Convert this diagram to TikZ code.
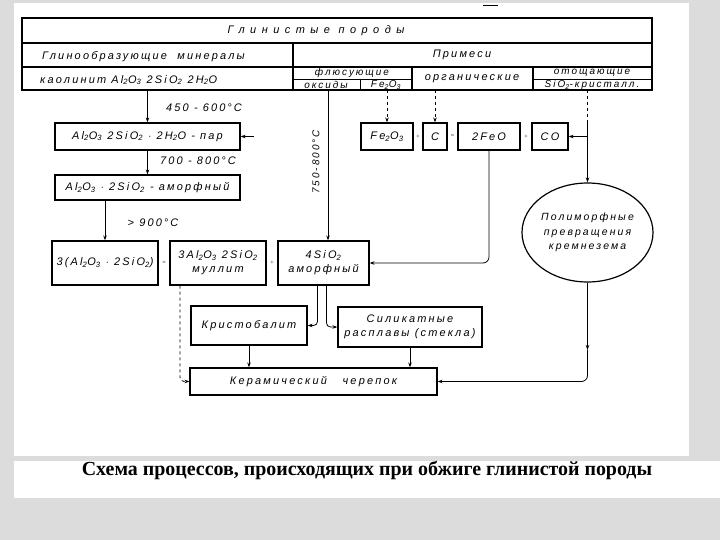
\documentclass[tikz,border=0pt]{standalone}
\usepackage{fontspec}
\setmainfont{Liberation Serif}
\newfontfamily\dr[LetterSpace=20]{Liberation Sans}
\usetikzlibrary{arrows.meta,shapes.geometric,calc}
\definecolor{bggray}{RGB}{220,220,220}
\newcommand{\lo}[1]{\textsubscript{#1}}
\tikzset{
  bx/.style={draw, line width=1.2pt, inner sep=0pt, align=center, font=\dr\itshape\fontsize{11}{14}\selectfont},
  ar/.style={line width=0.8pt, -{Stealth[length=5pt,width=3.5pt]}},
  ln/.style={line width=0.8pt},
  lbl/.style={font=\dr\itshape\fontsize{11}{13}\selectfont, inner sep=0pt},
  ttx/.style={font=\dr\itshape\fontsize{11}{13}\selectfont, inner sep=0pt},
  tts/.style={font=\dr\itshape\fontsize{10}{11}\selectfont, inner sep=0pt},
  tbl/.style={line width=1.2pt},
  sgn/.style={font=\fontsize{6}{6}\selectfont, inner sep=0pt},
}
\begin{document}
\begin{tikzpicture}[x=1bp,y=-1bp]
\useasboundingbox (0,0) rectangle (720,540);
\fill[bggray] (0,0) rectangle (720,540);
\fill[white] (14,3) rectangle (689,456);
\fill[white] (14,461) rectangle (720,498);
\draw[line width=1pt] (483,6) -- (498,6);

% table
\draw[line width=2pt] (22,18) rectangle (652,90);
\draw[tbl] (22,43) -- (652,43);
\draw[tbl] (293,43) -- (293,90);
\draw[tbl] (22,67) -- (652,67);
\draw[tbl] (412,67) -- (412,90);
\draw[tbl] (533,67) -- (533,90);
\draw[ln] (293,79) -- (412,79);
\draw[ln] (360,79) -- (360,90);
\draw[ln] (533,79) -- (652,79);

\node[ttx] (tg) at (316,31) {\addfontfeature{LetterSpace=50}Глинистые породы};
\node[ttx, anchor=west] (tm) at (42,57) {Глинообразующие\ \ минералы};
\node[ttx, anchor=west] (tk) at (40,80) {каолинит Al\lo2O\lo3 2SiO\lo2 2H\lo2O};
\node[ttx] (tp) at (462,55) {Примеси};
\node[tts] (tf) at (352,73) {флюсующие};
\node[tts] (to) at (326,85) {оксиды};
\node[tts] (tfe) at (386,85) {Fe\lo2O\lo3};
\node[ttx] (tor) at (472,79) {органические};
\node[tts] (tot) at (592,73) {отощающие};
\node[tts] (tsi) at (592,85) {SiO\lo2-кристалл.};

% table exit points
\coordinate (k1) at (147.5,90);
\coordinate (k2) at (328,90);
\coordinate (k3) at (387,90);
\coordinate (k4) at (435,90);
\coordinate (k5) at (587.5,90);
\coordinate (k5b) at (587.5,122);

% boxes
\node[bx, minimum width=185bp, minimum height=27bp] (b1) at (147.5,136.5) {Al\lo2O\lo3 2SiO\lo2 $\cdot$ 2H\lo2O - пар};
\node[bx, minimum width=185bp, minimum height=25bp] (b2) at (147.5,187.5) {Al\lo2O\lo3 $\cdot$ 2SiO\lo2 - аморфный};
\node[bx, minimum width=106bp, minimum height=44bp] (b3) at (105,263) {3(Al\lo2O\lo3 $\cdot$ 2SiO\lo2)};
\node[bx, minimum width=96bp, minimum height=44bp] (b4) at (218,263) {3Al\lo2O\lo3 2SiO\lo2\\муллит};
\node[bx, minimum width=91bp, minimum height=44bp] (b5) at (323.5,263) {4SiO\lo2\\аморфный};
\node[bx, minimum width=52bp, minimum height=27bp] (fe) at (387,136.5) {Fe\lo2O\lo3};
\node[bx, minimum width=24bp, minimum height=27bp] (cc) at (435,136.5) {C};
\node[bx, minimum width=62bp, minimum height=27bp] (feo) at (489,136.5) {2FeO};
\node[bx, minimum width=36bp, minimum height=27bp] (co) at (550,136.5) {CO};
\node[bx, ellipse, minimum width=129bp, minimum height=99bp, font=\dr\itshape\fontsize{10.5}{14.5}\selectfont] (circ) at (587.5,232.5) {Полиморфные\\превращения\\кремнезема};
\node[bx, minimum width=116bp, minimum height=39bp] (kr) at (249,325.5) {Кристобалит};
\node[bx, minimum width=144bp, minimum height=40bp] (si) at (410,327) {Силикатные\\расплавы (стекла)};
\node[bx, minimum width=247bp, minimum height=27bp] (ke) at (313.5,381.5) {Керамический\ \ \ черепок};

% signs
\node[sgn] (s1) at (164,263) {=};
\node[sgn] (s2) at (272,263) {+};
\node[sgn] (s3) at (418,136.5) {+};
\node[sgn] (s4) at (452.5,136.5) {=};
\node[sgn] (s5) at (526,136.5) {+};

% labels
\node[lbl] (l1) at (204,108) {450 - 600\,°C};
\node[lbl] (l2) at (198,161) {700 - 800\,°C};
\node[lbl] (l3) at (153,223) {> 900\,°C};
\node[lbl, rotate=90, font=\dr\itshape\fontsize{10}{12}\selectfont] (l4) at (316,162) {750-800\,°C};

% connectors
\draw[ar] (k1) -- (b1.north);
\draw[ar] (b1.south) -- (b2.north);
\draw[ar] (b2.south -| b3.north) -- (b3.north);
\draw[ar] (k2) -- (k2 |- b5.north);
\draw[ar, dashed] (k3) -- (fe.north);
\draw[ar, dashed] (k4) -- (cc.north);
\draw[ln, dashed] (k5) -- (k5b);
\draw[ar] (k5b) -- (circ.north);
\coordinate (p1) at (254,136.5);
\coordinate (p2) at (587,136.5);
\draw[ar] (p1) -- (b1.east);
\draw[ar] (p2) -- (co.east);
\draw[ar, rounded corners=6] (feo.south) |- (b5.east);
\coordinate (m1) at (587.5,350);
\draw[ar] (circ.south) -- (m1);
\draw[ar, rounded corners=6] (m1) |- (ke.east);
\draw[ar] (kr.south) -- (kr.south |- ke.north);
\draw[ar] (si.south) -- (si.south |- ke.north);
\draw[ar, rounded corners=4] ([xshift=-6bp]b5.south) |- (kr.east);
\draw[ar, rounded corners=4] ([xshift=3bp]b5.south) |- (si.west);
\draw[ar, dashed, rounded corners=4] ([xshift=-38bp]b4.south) |- (ke.west);

% caption
\node[font=\bfseries\fontsize{20}{23}\selectfont, inner sep=0pt] (cap) at (367,470) {Схема процессов, происходящих при обжиге глинистой породы};
\end{tikzpicture}
\end{document}
